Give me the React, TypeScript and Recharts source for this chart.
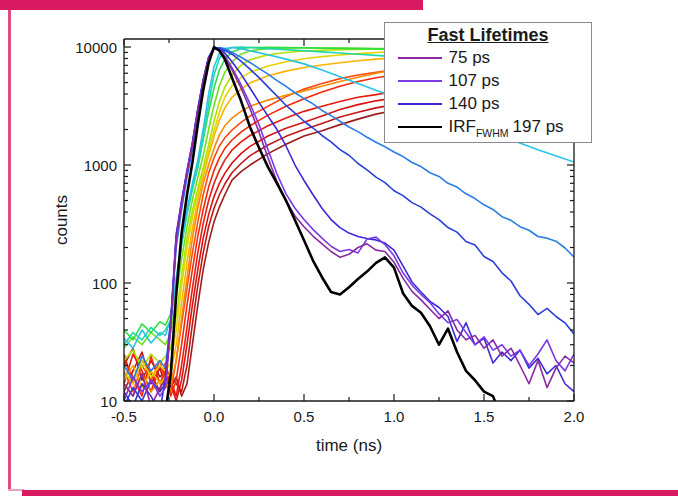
import React from 'react';
import { LineChart, Line, XAxis, YAxis, Legend } from 'recharts';

const FONT = '"Liberation Sans", Arial, Helvetica, sans-serif';
const INK = '#1a1a1a';

// ---- axes ----
const X_DOMAIN = [-0.5, 2.0];
const Y_DOMAIN = [10, 11700];
const X_TICKS = [-0.5, -0.25, 0, 0.25, 0.5, 0.75, 1, 1.25, 1.5, 1.75, 2];
const Y_TICKS = [10, 20, 30, 40, 50, 60, 70, 80, 90, 100, 200, 300, 400, 500, 600, 700, 800, 900,
  1000, 2000, 3000, 4000, 5000, 6000, 7000, 8000, 9000, 10000];

// ---- time grids (ns) ----
const TIME_A = [-0.5, -0.45, -0.4, -0.35, -0.3, -0.27, -0.24, -0.21, -0.18, -0.15, -0.12, -0.09, -0.06, -0.03, 0,
  0.03, 0.06, 0.1, 0.15, 0.2, 0.3, 0.4, 0.5, 0.6, 0.7, 0.8, 0.9, 1.0, 1.2, 1.4, 1.6, 1.8, 2.0];
const TIME_B = [-0.5, -0.45, -0.4, -0.35, -0.3, -0.27, -0.24, -0.21, -0.18, -0.15, -0.12, -0.09, -0.06, -0.03, 0,
  0.03, 0.06, 0.1, 0.15, 0.2, 0.25, 0.3, 0.35, 0.4, 0.45, 0.5, 0.55, 0.6, 0.65, 0.7, 0.75, 0.8, 0.85, 0.9, 0.95,
  1.0, 1.05, 1.1, 1.15, 1.2, 1.25, 1.3, 1.35, 1.4, 1.45, 1.5, 1.55, 1.6, 1.65, 1.7, 1.75, 1.8, 1.85, 1.9, 1.95, 2.0];

// ---- slow (rainbow) decays, on TIME_A ----
const RED_6 = [20, 28, 15, 22, 16, 18, 13, 16, 11, 14, 30, 65, 130, 220, 330, 440, 560, 745, 880, 1000, 1250, 1500, 1760, 1950, 2200, 2450, 2700, 2900, 3300, 3700, 4000, 4300, 4600];
const RED_5 = [12, 18, 26, 14, 19, 13, 17, 14, 12, 20, 45, 95, 180, 300, 430, 560, 690, 860, 1030, 1200, 1480, 1750, 2000, 2250, 2550, 2800, 3050, 3250, 3700, 4100, 4500, 4800, 5100];
const RED_4 = [25, 14, 22, 17, 12, 21, 14, 10, 15, 30, 65, 130, 240, 380, 540, 700, 850, 1040, 1250, 1440, 1760, 2050, 2300, 2600, 2950, 3250, 3500, 3700, 4200, 4700, 5100, 5500, 5800];
const RED_3 = [14, 25, 18, 12, 20, 16, 15, 11, 20, 42, 90, 180, 320, 500, 700, 900, 1100, 1340, 1570, 1780, 2150, 2500, 2850, 3150, 3450, 3750, 3950, 4200, 4800, 5300, 5800, 6200, 6600];
const RED_2 = [22, 16, 11, 24, 14, 18, 11, 15, 30, 65, 130, 250, 420, 650, 900, 1150, 1380, 1630, 1900, 2150, 2650, 3150, 3650, 4150, 4650, 5100, 5500, 5800, 6400, 7000, 7400, 7800, 8100];
const RED_1 = [18, 12, 20, 15, 22, 14, 12, 22, 45, 90, 180, 330, 560, 850, 1150, 1450, 1700, 1980, 2300, 2600, 3150, 3800, 4400, 4900, 5400, 5800, 6100, 6400, 7000, 7500, 7900, 8200, 8500];
const ORANGE = [14, 11, 17, 12, 15, 13, 14, 22, 50, 110, 240, 430, 700, 1000, 1380, 1800, 2150, 2500, 2850, 3150, 3550, 3900, 4250, 4650, 5100, 5550, 6000, 6400, 7100, 7700, 8100, 8450, 8700];
const YORANGE = [15, 20, 13, 18, 14, 16, 17, 30, 68, 150, 290, 500, 800, 1200, 1750, 2400, 3050, 3750, 4400, 4950, 5700, 6250, 6700, 7050, 7350, 7650, 7900, 8100, 8450, 8700, 8900, 9050, 9150];
const YELLOW = [18, 14, 22, 16, 20, 18, 21, 40, 95, 200, 360, 580, 880, 1300, 1950, 2800, 3750, 4700, 5500, 6100, 6900, 7500, 7950, 8300, 8550, 8800, 9000, 9150, 9350, 9500, 9600, 9650, 9700];
const LIME = [22, 27, 19, 25, 21, 24, 28, 52, 115, 240, 410, 630, 950, 1480, 2350, 3450, 4550, 5800, 7000, 7800, 8600, 9000, 9250, 9400, 9500, 9550, 9600, 9600, 9600, 9550, 9500, 9450, 9400];
const GREEN_2 = [28, 35, 30, 38, 33, 30, 38, 75, 160, 300, 510, 780, 1200, 2000, 3200, 4700, 6100, 7500, 8700, 9300, 9700, 9800, 9850, 9800, 9800, 9750, 9700, 9650, 9600, 9500, 9400, 9300, 9200];
const GREEN_1 = [40, 33, 45, 38, 47, 44, 55, 105, 220, 400, 650, 960, 1650, 2800, 4500, 6400, 7900, 9100, 9700, 9900, 9950, 9900, 9850, 9800, 9750, 9700, 9650, 9600, 9500, 9400, 9300, 9200, 9100];
const TEAL = [30, 38, 33, 42, 36, 40, 48, 100, 210, 380, 620, 950, 1700, 3300, 5800, 8000, 9300, 9900, 10000, 9900, 9700, 9500, 9300, 9100, 8900, 8700, 8500, 8300, 7900, 7500, 7100, 6700, 6300];
const CYAN = [34, 28, 40, 31, 38, 36, 50, 110, 230, 420, 700, 1100, 2000, 4000, 6800, 8800, 9700, 9900, 9700, 9300, 8600, 7900, 7200, 6400, 5600, 4900, 4300, 3800, 3000, 2300, 1750, 1350, 1060];

// ---- fast decays and IRF, on TIME_B ----
const LIGHT_BLUE = [20, 15, 24, 18, 22, 19, 48, 200, 420, 780, 1350, 2600, 4800, 7700, 9600, 9900, 9700, 9000, 8200, 7400,
  6600, 5900, 5200, 4650, 4100, 3650, 3300, 2900, 2620, 2350, 2100, 1920, 1720, 1560, 1430, 1290, 1180, 1050, 970, 860,
  800, 700, 650, 570, 520, 460, 420, 365, 340, 300, 280, 248, 240, 226, 198, 166];
const DARK_BLUE = [9, 13, 10, 15, 12, 14, 46, 245, 490, 880, 1530, 2950, 5250, 8150, 9850, 9750, 9400, 8700, 7600, 6500,
  5500, 4600, 3850, 3200, 2750, 2350, 2060, 1780, 1570, 1350, 1210, 1030, 910, 790, 710, 605, 550, 480, 440, 385,
  345, 295, 270, 225, 210, 168, 152, 122, 104, 78, 66, 54, 61, 52, 46, 37];
const LIFE_140 = [12, 9, 14, 11, 8, 16, 50, 260, 500, 900, 1550, 3000, 5300, 8200, 9900, 9600, 8900, 7500, 5900, 4500,
  3400, 2600, 2000, 1450, 1000, 740, 560, 430, 345, 295, 265, 248, 238, 232, 218, 190, 140, 102, 84, 70,
  62, 52, 32, 46, 30, 34, 21, 26, 22, 27, 19, 23, 17, 20, 14, 12];
const LIFE_107 = [10, 16, 12, 15, 11, 13, 42, 230, 460, 850, 1480, 2850, 5100, 8000, 9800, 9400, 8400, 6700, 4800, 3300,
  2200, 1350, 840, 570, 430, 345, 285, 240, 205, 185, 192, 180, 236, 245, 212, 170, 122, 96, 80, 68,
  55, 46, 49, 38, 30, 35, 27, 30, 24, 27, 20, 25, 33, 22, 18, 25];
const LIFE_75 = [14, 11, 17, 9, 13, 15, 45, 240, 470, 860, 1500, 2900, 5200, 8100, 9800, 9300, 8200, 6400, 4500, 3000,
  1900, 1150, 720, 500, 370, 300, 250, 215, 185, 165, 175, 200, 215, 190, 185, 150, 110, 85, 72, 60,
  50, 58, 40, 33, 36, 28, 33, 24, 28, 20, 14, 22, 13, 19, 24, 21];
const IRF = [6, 5, 7, 5, 6, 8, 17, 80, 265, 560, 1050, 2200, 4300, 7300, 10000, 9300, 7900, 5500, 3500, 2100,
  1400, 960, 700, 500, 340, 230, 155, 112, 84, 80, 92, 108, 125, 148, 165, 135, 82, 64, 56, 43,
  30, 41, 26, 18, 15, 12, 11, 7, 5, 4, 4, 4, 4, 4, 4, 4];

const SERIES = [
  { id: 'r6', time: TIME_A, values: RED_6, color: '#9c1c1c', width: 1.6 },
  { id: 'r5', time: TIME_A, values: RED_5, color: '#c41616', width: 1.6 },
  { id: 'r4', time: TIME_A, values: RED_4, color: '#d81212', width: 1.6 },
  { id: 'r3', time: TIME_A, values: RED_3, color: '#e81a10', width: 1.6 },
  { id: 'r2', time: TIME_A, values: RED_2, color: '#f02a0a', width: 1.6 },
  { id: 'r1', time: TIME_A, values: RED_1, color: '#f84c12', width: 1.6 },
  { id: 'or', time: TIME_A, values: ORANGE, color: '#f58a00', width: 1.6 },
  { id: 'yo', time: TIME_A, values: YORANGE, color: '#f8b400', width: 1.6 },
  { id: 'ye', time: TIME_A, values: YELLOW, color: '#e6d400', width: 1.6 },
  { id: 'li', time: TIME_A, values: LIME, color: '#b4e000', width: 1.6 },
  { id: 'g2', time: TIME_A, values: GREEN_2, color: '#70e020', width: 1.6 },
  { id: 'g1', time: TIME_A, values: GREEN_1, color: '#30e040', width: 1.6 },
  { id: 'te', time: TIME_A, values: TEAL, color: '#20d8a8', width: 1.6 },
  { id: 'cy', time: TIME_A, values: CYAN, color: '#28c4e8', width: 1.6 },
  { id: 'lb', time: TIME_B, values: LIGHT_BLUE, color: '#2a7ee6', width: 1.6 },
  { id: 'db', time: TIME_B, values: DARK_BLUE, color: '#2a40d8', width: 1.6 },
  { id: 'f140', time: TIME_B, values: LIFE_140, color: '#3a2ad8', width: 1.6 },
  { id: 'f107', time: TIME_B, values: LIFE_107, color: '#7a3ae4', width: 1.6 },
  { id: 'f75', time: TIME_B, values: LIFE_75, color: '#8a2aa0', width: 1.6 },
  { id: 'irf', time: TIME_B, values: IRF, color: '#000000', width: 2.6 },
];

const LEGEND_ITEMS = [
  { label: '75 ps', color: '#8a2aa0' },
  { label: '107 ps', color: '#7a3ae4' },
  { label: '140 ps', color: '#3a2ad8' },
  { label: 'IRF', sub: 'FWHM', after: '197 ps', color: '#000000' },
];

const toRows = (time: number[], values: number[]) => time.map((t, i) => ({ t, v: values[i] }));

const isMajorX = (v: number) => Math.abs(v * 2 - Math.round(v * 2)) < 1e-6;
const isMajorY = (v: number) => {
  const l = Math.log10(v);
  return Math.abs(l - Math.round(l)) < 1e-6;
};

const BottomTick = (p: any) => {
  const v = p.payload.value;
  const m = isMajorX(v);
  return (
    <g>
      <line x1={p.x} x2={p.x} y1={p.y} y2={p.y - (m ? 7 : 4)} stroke={INK} strokeWidth={1.2} />
      {m && (
        <text x={p.x} y={p.y + 21} textAnchor="middle" fontSize={15} fontFamily={FONT} fill={INK}>
          {v.toFixed(1)}
        </text>
      )}
    </g>
  );
};
const TopTick = (p: any) => {
  const m = isMajorX(p.payload.value);
  return <line x1={p.x} x2={p.x} y1={p.y} y2={p.y + (m ? 7 : 4)} stroke={INK} strokeWidth={1.2} />;
};
const LeftTick = (p: any) => {
  const v = p.payload.value;
  const m = isMajorY(v);
  return (
    <g>
      <line x1={p.x} x2={p.x + (m ? 7 : 4)} y1={p.y} y2={p.y} stroke={INK} strokeWidth={1.2} />
      {m && (
        <text x={p.x - 7} y={p.y + 5.5} textAnchor="end" fontSize={15} fontFamily={FONT} fill={INK}>
          {String(Math.round(v))}
        </text>
      )}
    </g>
  );
};
const RightTick = (p: any) => {
  const m = isMajorY(p.payload.value);
  return <line x1={p.x} x2={p.x - (m ? 7 : 4)} y1={p.y} y2={p.y} stroke={INK} strokeWidth={1.2} />;
};

const YTitle = (props: any) => {
  const vb = props.viewBox;
  const cx = vb.x + vb.width - 57;
  const cy = vb.y + vb.height / 2;
  return (
    <text x={cx} y={cy} transform={`rotate(-90 ${cx} ${cy})`} textAnchor="middle" fontSize={17} fontFamily={FONT} fill={INK}>
      counts
    </text>
  );
};
const XTitle = (props: any) => {
  const vb = props.viewBox;
  return (
    <text x={vb.x + vb.width / 2} y={vb.y + 50} textAnchor="middle" fontSize={17} fontFamily={FONT} fill={INK}>
      time (ns)
    </text>
  );
};

const LegendBox = () => (
  <div
    style={{
      width: 208,
      height: 121,
      boxSizing: 'border-box',
      border: '1.5px solid #8a8a8a',
      background: '#ffffff',
      fontFamily: FONT,
      color: INK,
    }}
  >
    <div
      style={{
        textAlign: 'center',
        fontWeight: 'bold',
        fontSize: 18,
        textDecoration: 'underline',
        lineHeight: '22px',
        marginTop: 1,
      }}
    >
      Fast Lifetimes
    </div>
    {LEGEND_ITEMS.map((it) => (
      <div key={it.label} style={{ display: 'flex', alignItems: 'center', height: 23 }}>
        <div style={{ width: 44, height: 2, background: it.color, marginLeft: 12.5, marginRight: 7 }} />
        <span style={{ fontSize: 17, whiteSpace: 'nowrap' }}>
          {it.label}
          {it.sub && <span style={{ fontSize: 10.5, position: 'relative', top: 5 }}>{it.sub}</span>}
          {it.after && <span style={{ marginLeft: 4 }}>{it.after}</span>}
        </span>
      </div>
    ))}
  </div>
);

export default function App() {
  return (
    <div style={{ position: 'absolute', left: 0, top: 0, width: 678, height: 496, background: '#ffffff', overflow: 'hidden' }}>
      <div style={{ position: 'absolute', left: 0, top: 0, width: 423, height: 10, background: '#d81b60' }} />
      <div style={{ position: 'absolute', left: 8, top: 10, width: 3, height: 481, background: '#de4a82' }} />
      <div style={{ position: 'absolute', left: 8, top: 489, width: 16, height: 2, background: '#eaa2bc' }} />
      <div style={{ position: 'absolute', left: 22, top: 490, width: 656, height: 6, background: '#d81b60' }} />
      <LineChart width={678} height={496} margin={{ top: 38, right: 103, bottom: 94, left: 123 }}>
        <XAxis
          xAxisId="x"
          type="number"
          dataKey="t"
          domain={X_DOMAIN}
          allowDataOverflow
          ticks={X_TICKS}
          interval={0}
          height={1}
          tickSize={0}
          tickMargin={0}
          tickLine={false}
          tick={BottomTick}
          axisLine={{ stroke: INK, strokeWidth: 1.3 }}
          label={XTitle}
        />
        <XAxis
          xAxisId="xt"
          orientation="top"
          type="number"
          dataKey="t"
          domain={X_DOMAIN}
          allowDataOverflow
          ticks={X_TICKS}
          interval={0}
          height={1}
          tickSize={0}
          tickMargin={0}
          tickLine={false}
          tick={TopTick}
          axisLine={{ stroke: INK, strokeWidth: 1.3 }}
        />
        <YAxis
          yAxisId="y"
          type="number"
          scale="log"
          domain={Y_DOMAIN}
          allowDataOverflow
          ticks={Y_TICKS}
          interval={0}
          width={1}
          tickSize={0}
          tickMargin={0}
          tickLine={false}
          tick={LeftTick}
          axisLine={{ stroke: INK, strokeWidth: 1.3 }}
          label={YTitle}
        />
        <YAxis
          yAxisId="yr"
          orientation="right"
          type="number"
          scale="log"
          domain={Y_DOMAIN}
          allowDataOverflow
          ticks={Y_TICKS}
          interval={0}
          width={1}
          tickSize={0}
          tickMargin={0}
          tickLine={false}
          tick={RightTick}
          axisLine={{ stroke: INK, strokeWidth: 1.3 }}
        />
        {SERIES.map((s) => (
          <Line
            key={s.id}
            xAxisId="x"
            yAxisId="y"
            data={toRows(s.time, s.values)}
            dataKey="v"
            type="linear"
            stroke={s.color}
            strokeWidth={s.width}
            strokeLinejoin="round"
            dot={false}
            activeDot={false}
            isAnimationActive={false}
            legendType="none"
          />
        ))}
        <Legend
          layout="vertical"
          align="center"
          verticalAlign="middle"
          content={LegendBox}
          wrapperStyle={{ left: 384, top: 22, width: 208, height: 121 }}
        />
      </LineChart>
    </div>
  );
}
